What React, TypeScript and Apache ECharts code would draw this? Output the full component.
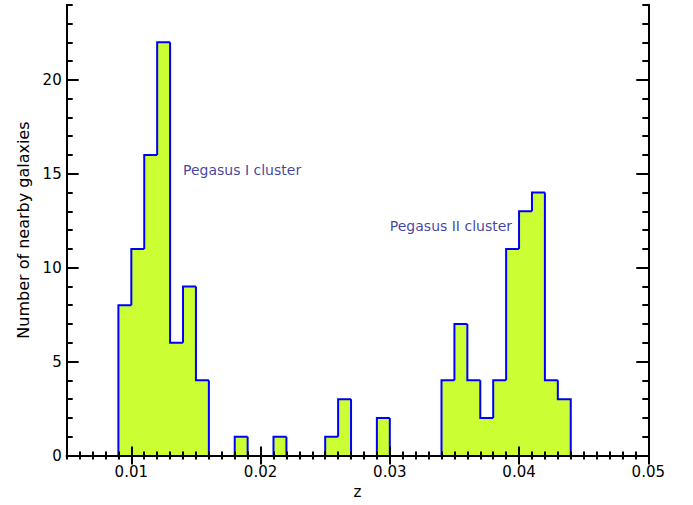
import { useEffect, useRef } from "react";
import * as echarts from "echarts";

// Histogram data: counts per redshift bin (bins of width 0.001 starting at z = 0.009)
const binStart = 0.009;
const binWidth = 0.001;
const counts = [
  8, 11, 16, 22, 6, 9, 4, 0, 0, 1, 0, 0, 1, 0, 0, 0, 1, 3, 0, 0, 2, 0, 0, 0, 0,
  4, 7, 4, 2, 4, 11, 13, 14, 4, 3,
];
const xTickLabels = [0.01, 0.02, 0.03, 0.04, 0.05];
const yTickLabels = [0, 5, 10, 15, 20];
const annotationNames = ["Pegasus I cluster", "Pegasus II cluster"];
const annotationZ = [0.014, 0.03];
const annotationN = [15.2, 12.2];

const FILL = "#ccff33";
const EDGE = "#0000ff";
const TEXT_BLUE = "#10108c";
const FONT = "DejaVu Sans";

export default function App() {
  const ref = useRef<HTMLDivElement>(null);

  useEffect(() => {
    if (!ref.current) return;
    const chart = echarts.init(ref.current, undefined, { renderer: "svg" });

    const bins = counts.map((c, i) => [
      binStart + i * binWidth,
      binStart + (i + 1) * binWidth,
      c,
      i > 0 ? counts[i - 1] : 0,
      i === counts.length - 1 ? 1 : 0,
    ]);

    const gridBox = { left: 66.7, top: 4.7, right: 44.7, bottom: 49.5, containLabel: false, outerBoundsMode: "none" };

    const axisLine = { show: true, lineStyle: { color: "#000", width: 2 } };
    const minorX = {
      gridIndex: 0, type: "value", min: 0.005, max: 0.05, interval: 0.001, z: 5,
      axisLine, splitLine: { show: false },
      axisTick: { show: true, inside: true, length: 4, lineStyle: { color: "#000", width: 2 } },
      axisLabel: { show: false },
    };
    const minorY = {
      gridIndex: 0, type: "value", min: 0, max: 24, interval: 1, z: 5,
      axisLine, splitLine: { show: false },
      axisTick: { show: true, inside: true, length: 6, lineStyle: { color: "#000", width: 2 } },
      axisLabel: { show: false },
    };
    const majorX = {
      gridIndex: 1, type: "value", min: 0.005, max: 0.05, z: 6,
      axisLine: { show: false }, splitLine: { show: false },
      axisTick: { show: true, inside: true, length: 9, customValues: xTickLabels, lineStyle: { color: "#000", width: 2 } },
    };
    const majorY = {
      gridIndex: 1, type: "value", min: 0, max: 24, z: 6,
      axisLine: { show: false }, splitLine: { show: false },
      axisTick: { show: true, inside: true, length: 12, customValues: yTickLabels, lineStyle: { color: "#000", width: 2 } },
    };

    chart.setOption({
      animation: false,
      backgroundColor: "#fff",
      grid: [gridBox, gridBox],
      xAxis: [
        { ...minorX, position: "bottom" },
        { ...minorX, position: "top" },
        {
          ...majorX, position: "bottom",
          axisLabel: {
            show: true, customValues: xTickLabels, margin: 9, color: "#000",
            fontFamily: FONT, fontSize: 15,
            formatter: (v: number) => v.toFixed(2),
          },
          name: "z", nameLocation: "middle", nameGap: 27,
          nameTextStyle: { color: "#000", fontFamily: FONT, fontSize: 15 },
        },
        { ...majorX, position: "top", axisLabel: { show: false } },
      ],
      yAxis: [
        { ...minorY, position: "left" },
        { ...minorY, position: "right" },
        {
          ...majorY, position: "left",
          axisLabel: {
            show: true, customValues: yTickLabels, margin: 5, color: "#000",
            fontFamily: FONT, fontSize: 15,
          },
          name: "Number of nearby galaxies", nameLocation: "middle", nameGap: 26, nameRotate: 90,
          nameTextStyle: { color: "#000", fontFamily: FONT, fontSize: 16 },
        },
        { ...majorY, position: "right", axisLabel: { show: false } },
      ],
      series: [
        {
          type: "custom",
          xAxisIndex: 0, yAxisIndex: 0, z: 2,
          encode: { x: [0, 1], y: 2 },
          data: bins,
          renderItem: (_p: any, api: any) => {
            const c = api.value(2);
            if (!(c > 0)) return null;
            const a = api.coord([api.value(0), 0]);
            const b = api.coord([api.value(1), c]);
            return {
              type: "rect",
              shape: { x: a[0], y: b[1], width: b[0] - a[0], height: a[1] - b[1] },
              style: { fill: FILL, stroke: FILL, lineWidth: 1 },
            };
          },
        },
        {
          type: "custom",
          xAxisIndex: 0, yAxisIndex: 0, z: 3,
          encode: { x: [0, 1], y: 2 },
          data: bins,
          renderItem: (_p: any, api: any) => {
            const x0 = api.value(0);
            const x1 = api.value(1);
            const c = api.value(2);
            const prev = api.value(3);
            const last = api.value(4);
            const pts: number[][] = [];
            if (c > 0) {
              pts.push(api.coord([x0, prev]), api.coord([x0, c]), api.coord([x1, c]));
              if (last) pts.push(api.coord([x1, 0]));
            } else if (prev > 0) {
              pts.push(api.coord([x0, prev]), api.coord([x0, 0]));
            }
            if (!pts.length) return null;
            return {
              type: "polyline",
              shape: { points: pts },
              style: { stroke: EDGE, lineWidth: 2, fill: "none", lineJoin: "miter" },
            };
          },
        },
        {
          type: "scatter",
          xAxisIndex: 0, yAxisIndex: 0, z: 4,
          symbolSize: 0,
          silent: true,
          data: annotationNames.map((name, i) => ({ name, value: [annotationZ[i], annotationN[i]] })),
          label: {
            show: true, position: "right", distance: 0,
            formatter: (p: any) => p.name,
            color: TEXT_BLUE, fontFamily: FONT, fontSize: 14,
          },
        },
      ],
    });

    return () => chart.dispose();
  }, []);

  return (
    <div
      ref={ref}
      style={{ position: "fixed", left: 0, top: 0, width: 693, height: 505, background: "#fff" }}
    />
  );
}
